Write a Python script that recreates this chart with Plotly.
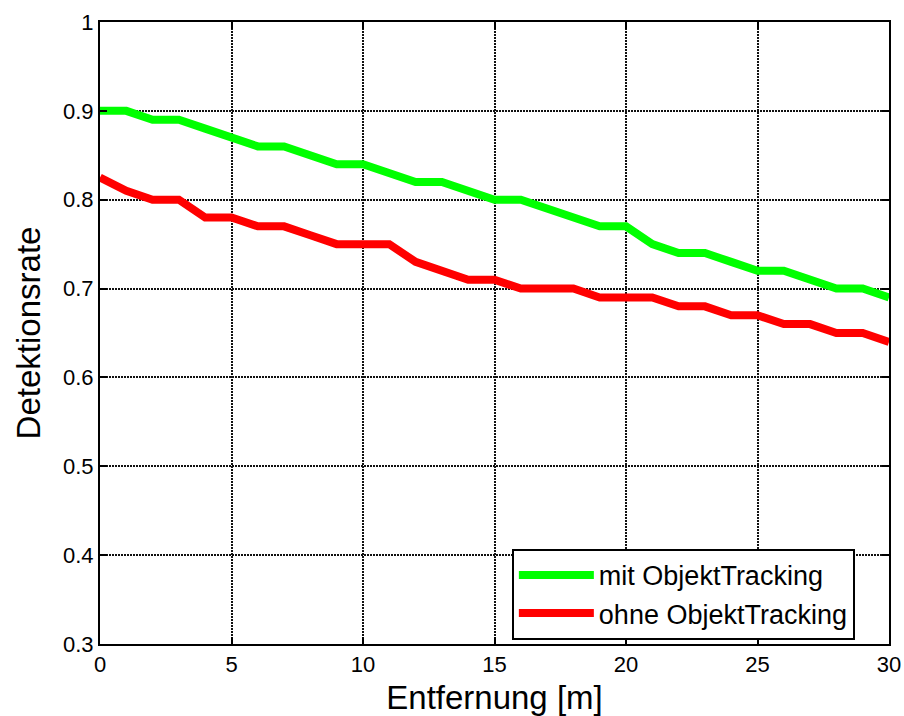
import plotly.graph_objects as go

entfernung = list(range(0, 31))
mit_tracking = [0.90, 0.90, 0.89, 0.89, 0.88, 0.87, 0.86, 0.86, 0.85, 0.84, 0.84,
                0.83, 0.82, 0.82, 0.81, 0.80, 0.80, 0.79, 0.78, 0.77, 0.77,
                0.75, 0.74, 0.74, 0.73, 0.72, 0.72, 0.71, 0.70, 0.70, 0.69]
ohne_tracking = [0.825, 0.81, 0.80, 0.80, 0.78, 0.78, 0.77, 0.77, 0.76, 0.75, 0.75,
                 0.75, 0.73, 0.72, 0.71, 0.71, 0.70, 0.70, 0.70, 0.69, 0.69,
                 0.69, 0.68, 0.68, 0.67, 0.67, 0.66, 0.66, 0.65, 0.65, 0.64]
x_ticks = [0, 5, 10, 15, 20, 25, 30]
y_ticks = [0.3, 0.4, 0.5, 0.6, 0.7, 0.8, 0.9, 1]
y_labels = ["0.3", "0.4", "0.5", "0.6", "0.7", "0.8", "0.9", "1"]

font = "Liberation Sans, Arial, sans-serif"

fig = go.Figure(layout=go.Layout(autosize=False, width=904, height=716,
                                 margin=go.layout.Margin(l=100, r=15, t=22, b=72)))

fig.add_trace(go.Scatter(x=entfernung, y=mit_tracking, mode='lines', name='mit ObjektTracking',
                         line=dict(color='#00ff00', width=8)))
fig.add_trace(go.Scatter(x=entfernung, y=ohne_tracking, mode='lines', name='ohne ObjektTracking',
                         line=dict(color='#ff0000', width=8)))

axis_style = dict(showline=True, linecolor='black', linewidth=2, mirror='ticks',
                  ticks='inside', ticklen=7, tickwidth=1.5, tickcolor='black',
                  showgrid=True, gridcolor='#111111', gridwidth=1.5, griddash='2px,1px',
                  zeroline=False, automargin=False)

fig.update_xaxes(range=[0, 30], tickvals=x_ticks,
                 tickfont=dict(family=font, size=22, color='black'),
                 title=dict(text='Entfernung [m]', font=dict(family=font, size=33, color='black'),
                            standoff=9),
                 **axis_style)
fig.update_yaxes(range=[0.3, 1], tickvals=y_ticks, ticktext=y_labels,
                 tickfont=dict(family=font, size=22, color='black'),
                 title=dict(text='Detektionsrate', font=dict(family=font, size=33, color='black'),
                            standoff=12),
                 **axis_style)

fig.update_layout(
    plot_bgcolor='white', paper_bgcolor='white',
    legend=dict(x=0.522, y=0.153, xanchor='left', yanchor='top',
                bgcolor='white', bordercolor='black', borderwidth=2,
                font=dict(family=font, size=27, color='black'),
                itemwidth=75, tracegroupgap=0),
)

fig.write_html("out.html", config={'displayModeBar': False},
               post_script="document.body.style.margin='0';")
